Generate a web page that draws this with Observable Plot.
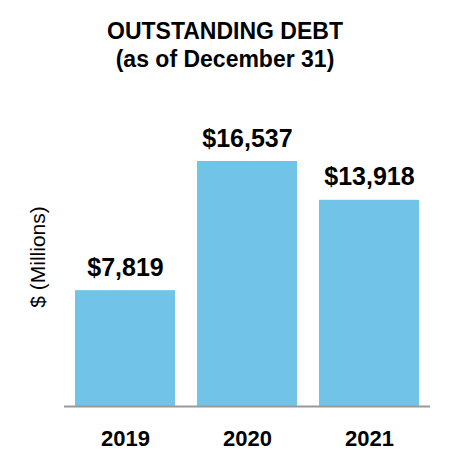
<!DOCTYPE html>
<html>
<head>
<meta charset="utf-8">
<script src="https://cdn.jsdelivr.net/npm/d3@7"></script>
<script src="https://cdn.jsdelivr.net/npm/@observablehq/plot@0.6"></script>
<style>
  html, body { margin: 0; padding: 0; background: #fff; }
  body { width: 450px; height: 466px; overflow: hidden; font-family: "Liberation Sans", Arial, sans-serif; }
  #title { text-align: center; font-weight: bold; font-size: 23px; line-height: 28px; padding-top: 17px; color: #000; height: 58px; }
  #chart svg { display: block; }
</style>
</head>
<body>
<div id="title">OUTSTANDING DEBT<br>(as of December 31)</div>
<div id="chart"></div>
<script>
const years = ["2019", "2020", "2021"];
const debt = [7819, 16537, 13918];
const yLabel = "$ (Millions)";

const data = years.map((y, i) => ({year: y, value: debt[i]}));
const fmt = v => "$" + d3.format(",")(v);

const chart = Plot.plot({
  width: 450,
  height: 391,
  marginLeft: 64,
  marginRight: 20,
  marginTop: 86,
  marginBottom: 60,
  style: {fontFamily: "'Liberation Sans', Arial, sans-serif", background: "#fff", overflow: "visible"},
  x: {domain: years, paddingInner: 0.18, paddingOuter: 0.09, axis: null},
  y: {domain: [0, 16537], axis: null},
  marks: [
    Plot.barY(data, {x: "year", y: "value", fill: "#71C4E8"}),
    Plot.ruleY([0], {stroke: "#999999", strokeWidth: 2}),
    Plot.text(data, {x: "year", y: "value", text: d => fmt(d.value), lineAnchor: "bottom", dy: -15, fontSize: 25, fontWeight: "bold", fill: "#000"}),
    Plot.text(data, {x: "year", text: "year", frameAnchor: "bottom", lineAnchor: "bottom", dy: 39, fontSize: 22, fontWeight: "bold", fill: "#000"}),
    Plot.text([yLabel], {text: d => d, frameAnchor: "left", textAnchor: "middle", lineAnchor: "middle", rotate: -90, dx: -26, dy: -27, fontSize: 21, fill: "#000"})
  ]
});
document.getElementById("chart").appendChild(chart);
</script>
</body>
</html>
